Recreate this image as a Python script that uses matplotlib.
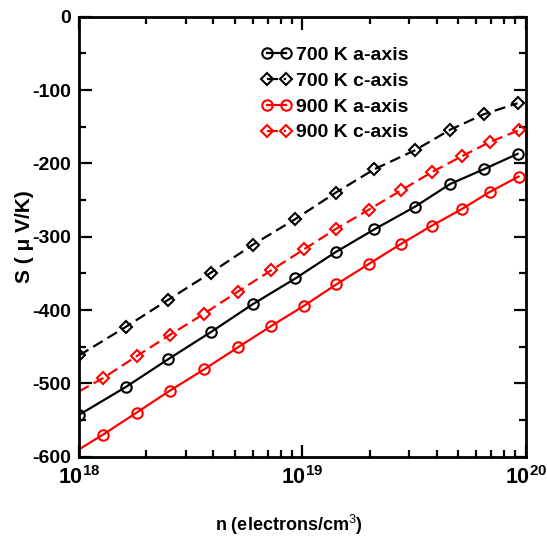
import numpy as np
import matplotlib
matplotlib.use('Agg')
import matplotlib.pyplot as plt
from matplotlib.ticker import MultipleLocator, LogLocator, NullFormatter, FuncFormatter

plt.rcParams['font.family'] = ['Liberation Sans', 'DejaVu Sans']
plt.rcParams['mathtext.fontset'] = 'custom'
plt.rcParams['mathtext.rm'] = 'Liberation Sans'
plt.rcParams['mathtext.bf'] = 'Liberation Sans:bold'
plt.rcParams['axes.unicode_minus'] = False

# 700 K curves (markers start at 1e18)
n_700 = [1.0e18, 1.62e18, 2.51e18, 3.9e18, 6.0e18, 9.3e18, 1.41e19,
         2.1e19, 3.2e19, 4.6e19, 6.5e19, 9.2e19]
S_700_a = [-543, -505, -467, -430, -392, -357, -321, -290, -259, -228, -208, -187]
S_700_c = [-462, -423, -386, -349, -311, -276, -240, -208, -182, -154, -133, -118]

# 900 K curves (line starts at 1e18, first marker at ~1.3e18)
n_900 = [1.0e18, 1.28e18, 1.81e18, 2.55e18, 3.63e18, 5.14e18, 7.24e18, 1.02e19,
         1.42e19, 1.99e19, 2.76e19, 3.8e19, 5.2e19, 6.9e19, 9.3e19]
S_900_a = [-590, -570, -540, -510, -481, -451, -422, -394, -365, -337, -310,
           -285, -262, -239, -218]
S_900_c = [-511, -493, -463, -434, -405, -375, -346, -317, -289, -263, -237,
           -212, -190, -171, -155]

fig = plt.figure(figsize=(5.47, 5.44), dpi=100)
ax = fig.add_axes([0.1444, 0.1605, 0.8166, 0.8088])

dash = (0, (5, 2.5))
ax.plot(n_700, S_700_a, color='black', lw=1.6, marker='o', ms=7.5, mfc='none',
        mew=1.5, label='700 K a-axis')
ax.plot(n_700, S_700_c, color='black', lw=1.6, ls=dash, marker='D', ms=6, mfc='none',
        mew=1.5, label='700 K c-axis')
ax.plot(n_900, S_900_a, color='red', lw=1.6, marker='o', ms=7.5, mfc='none',
        mew=1.5, markevery=slice(1, None), label='900 K a-axis')
ax.plot(n_900, S_900_c, color='red', lw=1.6, ls=dash, marker='D', ms=6, mfc='none',
        mew=1.5, markevery=slice(1, None), label='900 K c-axis')

ax.set_xscale('log')
ax.set_xlim(1e18, 1e20)
ax.set_ylim(-600, 0)
ax.yaxis.set_major_locator(MultipleLocator(100))
ax.yaxis.set_minor_locator(MultipleLocator(50))
ax.xaxis.set_major_locator(LogLocator(base=10, numticks=5))
ax.xaxis.set_major_formatter(FuncFormatter(lambda v, p: r'$\mathbf{10^{%d}}$' % round(np.log10(v))))
ax.xaxis.set_minor_locator(LogLocator(base=10, subs=np.arange(2, 10), numticks=20))
ax.xaxis.set_minor_formatter(NullFormatter())

for s in ax.spines.values():
    s.set_linewidth(2)
ax.tick_params(which='both', direction='in', top=True, right=True, width=1.6)
ax.tick_params(which='major', length=9)
ax.tick_params(which='minor', length=5)
ax.tick_params(axis='y', labelsize=14, pad=6)
ax.tick_params(axis='x', labelsize=15.5, pad=7)
for lab in ax.get_yticklabels():
    lab.set_fontweight('bold')

ax.set_xlabel('n (electrons/cm$^3$)', fontsize=13, fontweight='bold')
ax.xaxis.set_label_coords(0.47, -0.128)
ax.set_ylabel('S ( μ V/K)', fontsize=15, fontweight='bold')
ax.yaxis.set_label_coords(-0.10, 0.5)

leg = ax.legend(loc='upper left', bbox_to_anchor=(0.39, 0.95), frameon=False,
                numpoints=2, handlelength=1.6, handletextpad=0.2, labelspacing=0.42,
                fontsize=14, borderaxespad=0)
for t in leg.get_texts():
    t.set_fontweight('bold')

fig.savefig('out.png', dpi=100)
